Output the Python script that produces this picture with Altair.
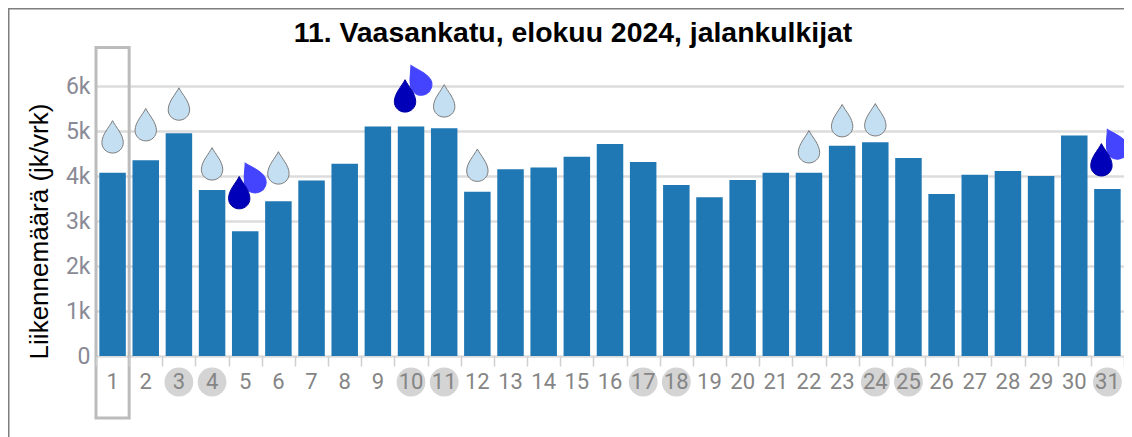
import altair as alt
import pandas as pd

days = list(range(1, 32))
counts = [4070, 4350, 4950, 3690, 2770, 3440, 3900, 4270, 5100, 5100, 5060, 3650,
          4150, 4190, 4430, 4710, 4310, 3800, 3530, 3910, 4070, 4070, 4670, 4750,
          4400, 3600, 4030, 4110, 4000, 4900, 3710]
weekend_days = [3, 4, 10, 11, 17, 18, 24, 25, 31]
light_days = [1, 2, 3, 4, 6, 11, 12, 22, 23, 24]
light_levels = [4870, 5140, 5600, 4270, 4180, 5670, 4240, 4650, 5230, 5250]
dark_days = [5, 10, 31]
dark_levels = [3630, 5780, 4360]
purple_days = [5, 10, 31]
purple_levels = [3970, 6140, 4720]

title = "11. Vaasankatu, elokuu 2024, jalankulkijat"
y_title = "Liikennemäärä (jk/vrk)"

DROP = ("M0,-1 C0.2,-0.6 0.66,-0.15 0.66,0.36 C0.66,0.72 0.36,1 0,1 "
        "C-0.36,1 -0.66,0.72 -0.66,0.36 C-0.66,-0.15 -0.2,-0.6 0,-1 Z")
W, H = 1028, 310

bars_df = pd.DataFrame({"day": days, "count": counts})
x_scale = alt.Scale(domain=days, paddingInner=0, paddingOuter=0, round=False)
y_scale = alt.Scale(domain=[0, 6889], nice=False)

x = alt.X("day:O", scale=x_scale, title=None,
          axis=alt.Axis(labels=False, tickBand="extent", tickSize=10, tickWidth=1.5, tickColor="#cfcfcf",
                        domain=False, grid=False, zindex=1))

bars = alt.Chart(bars_df).mark_bar(size=26.5, color="#1f77b4").encode(
    x=x,
    y=alt.Y("count:Q", scale=y_scale,
            axis=alt.Axis(values=[0, 1000, 2000, 3000, 4000, 5000, 6000],
                          labelExpr="datum.value == 0 ? '0' : (datum.value / 1000) + 'k'",
                          labelFont="Roboto", labelFontSize=23, labelColor="#8a8a96",
                          labelPadding=6, ticks=False, domain=False,
                          grid=True, gridColor="#dcdcdc", gridWidth=2.5,
                          title=y_title, titleFont="Liberation Sans", titleFontSize=26,
                          titleFontWeight="normal", titleColor="#000000",
                          titleX=-44, titleY=185, zindex=0)),
)

circles = alt.Chart(pd.DataFrame({"day": weekend_days})).mark_point(
    filled=True, size=830, color="#d4d4d4", opacity=1
).encode(x=alt.X("day:O", scale=x_scale), y=alt.value(H + 26))

day_labels = alt.Chart(bars_df).mark_text(
    font="Roboto", fontSize=22, color="#858585", align="center", baseline="middle"
).encode(x=alt.X("day:O", scale=x_scale), y=alt.value(H + 26), text="day:N")

box = alt.Chart(pd.DataFrame({"day": [1], "top": [6856], "bottom": [-1378]})).mark_rect(
    fill=None, stroke="#bcbcbc", strokeWidth=3
).encode(x=alt.X("day:O", scale=x_scale),
         y=alt.Y("top:Q", scale=y_scale), y2="bottom:Q")


def drops(d, levels, fill, stroke, dx, angle=0):
    return alt.Chart(pd.DataFrame({"day": d, "level": levels})).mark_point(
        shape=DROP, size=1050, filled=True, fill=fill, stroke=stroke,
        strokeWidth=1, opacity=1, xOffset=dx, angle=angle
    ).encode(x=alt.X("day:O", scale=x_scale), y=alt.Y("level:Q", scale=y_scale))


light = drops(light_days, light_levels, "#c5dff2", "#7c7c7c", 0)
purple = drops(purple_days, purple_levels, "#4444ff", "#4444ff", 7.5, 332)
dark = drops(dark_days, dark_levels, "#0000b8", "#0000a0", -6)

frame_h = alt.Chart(pd.DataFrame({"a": [0]})).mark_rule(color="#7f7f7f", strokeWidth=3).encode(
    x=alt.value(-88), x2=alt.value(W), y=alt.value(-38))
frame_v = alt.Chart(pd.DataFrame({"a": [0]})).mark_rule(color="#7f7f7f", strokeWidth=3).encode(
    x=alt.value(-88), y=alt.value(-38), y2=alt.value(H + 81))

title_text = alt.Chart(pd.DataFrame({"t": [title]})).mark_text(
    font="Liberation Sans", fontSize=28.4, fontWeight="bold", color="#000000",
    align="center", baseline="alphabetic"
).encode(text="t:N", x=alt.value(573 - 96), y=alt.value(42 - 46))

chart = alt.layer(circles, day_labels, bars, box, light, purple, dark, frame_h, frame_v, title_text).resolve_scale(
    x="shared", y="shared"
).properties(
    width=W, height=H,
    autosize=alt.AutoSizeParams(type="none"),
    padding={"left": 88, "top": 38, "right": 0, "bottom": 81},
).configure_view(stroke=None)

chart.save("out.html", embed_options={"renderer": "svg", "actions": False})
